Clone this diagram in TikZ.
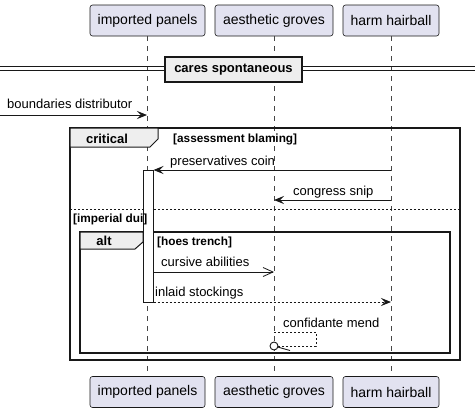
\documentclass[tikz,border=0pt]{standalone}
\usepackage{fontspec}
\setmainfont{Liberation Sans}
\usetikzlibrary{arrows.meta}
\definecolor{partfill}{HTML}{E2E2F0}
\definecolor{partline}{HTML}{181818}
\definecolor{tabfill}{HTML}{EEEEEE}
\tikzset{
  part/.style={draw=partline, fill=partfill, rounded corners=2.5pt, line width=0.6pt,
    minimum height=31pt, inner sep=0pt, font=\fontsize{14}{16}\selectfont},
  life/.style={draw=partline!80, line width=0.5pt, dash pattern=on 5pt off 5pt},
  msg/.style={line width=0.9pt, draw=partline},
  full/.style={-{Stealth[length=10pt,width=8pt,inset=4pt]}},
  openarrow/.style={-{Straight Barb[length=10pt,width=9pt,line width=0.8pt]}},
  dmsg/.style={msg, dash pattern=on 2pt off 2pt},
  mlabel/.style={font=\fontsize{13}{15}\selectfont, inner sep=0pt, anchor=base west},
  guard/.style={font=\bfseries\fontsize{11.8}{13}\selectfont, inner sep=0pt, anchor=base west},
  tablabel/.style={font=\bfseries\fontsize{13}{15}\selectfont, inner sep=0pt, anchor=base},
  frame/.style={draw=partline, line width=1.5pt},
  tab/.style={draw=partline, fill=tabfill, line width=1pt},
}
\begin{document}
\begin{tikzpicture}[x=1pt,y=-1pt]
\useasboundingbox (0,0) rectangle (475,413);
% participants
\node[part, minimum width=115pt] (p1t) at (147.5,20.5) {imported panels};
\node[part, minimum width=118pt] (p2t) at (274,20.5) {aesthetic groves};
\node[part, minimum width=96pt] (p3t) at (391,20.5) {harm hairball};
\node[part, minimum width=115pt] (p1b) at (147.5,392) {imported panels};
\node[part, minimum width=118pt] (p2b) at (274,392) {aesthetic groves};
\node[part, minimum width=96pt] (p3b) at (391,392) {harm hairball};
\draw[life] (p1t.south) -- (p1b.north);
\draw[life] (p2t.south) -- (p2b.north);
\draw[life] (p3t.south) -- (p3b.north);

% divider
\coordinate (dl) at (0,68.5);
\coordinate (dr) at (475,68.5);
\draw[draw=partline, line width=0.8pt] ([yshift=-1.7pt]dl) -- ([yshift=-1.7pt]dr);
\draw[draw=partline, line width=0.8pt] ([yshift=1.7pt]dl) -- ([yshift=1.7pt]dr);
\node[draw=partline, fill=tabfill, line width=1.6pt, minimum width=137pt, minimum height=25pt,
  inner sep=0pt, font=\bfseries\fontsize{13}{15}\selectfont] (div) at (233.5,69.5) {cares spontaneous};

% boundaries distributor
\coordinate (m1s) at (0,115);
\coordinate (m1e) at (147,115);
\draw[msg, full] (m1s) -- (m1e);
\node[mlabel] (l1) at (7,108) {boundaries distributor};

% critical frame
\coordinate (cf1) at (70,128);
\coordinate (cf2) at (460,360);
\draw[frame] (cf1) rectangle (cf2);
\draw[tab] (70,128) -- (158,128) -- (158,139) -- (150,147) -- (70,147) -- cycle;
\node[tablabel] (crit) at (107,143) {critical};
\node[guard] (g1) at (173,142.5) {[assessment blaming]};

% separator
\coordinate (s1) at (70,209);
\coordinate (s2) at (460,209);
\draw[draw=partline, line width=0.6pt, dash pattern=on 2pt off 2pt] (s1) -- (s2);

% alt frame
\coordinate (af1) at (80,232);
\coordinate (af2) at (450,353);
\draw[frame] (af1) rectangle (af2);
\draw[tab] (80,232) -- (143,232) -- (143,242) -- (135,249) -- (80,249) -- cycle;
\node[tablabel] (altl) at (104,245.5) {alt};
\node[guard] (g3) at (157,245) {[hoes trench]};

% activation
\node[draw=partline, fill=white, line width=0.8pt, minimum width=10pt, minimum height=132pt,
  inner sep=0pt, anchor=north west] (act) at (143,170) {};
\node[guard] (g2) at (73,222) {[imperial dui]};

% preservatives coin
\coordinate (m2s) at (391,170);
\coordinate (m2e) at (153.5,170);
\draw[msg, full] (m2s) -- (m2e);
\node[mlabel] (l2) at (170,165) {preservatives coin};

% congress snip
\coordinate (m3s) at (391,200);
\coordinate (m3e) at (274,200);
\draw[msg, full] (m3s) -- (m3e);
\node[mlabel] (l3) at (293,195) {congress snip};

% cursive abilities
\coordinate (m4s) at (153.5,272);
\coordinate (m4e) at (274,272);
\draw[msg, openarrow] (m4s) -- (m4e);
\node[mlabel] (l4) at (161,266) {cursive abilities};

% inlaid stockings
\coordinate (m5s) at (153.5,302);
\coordinate (m5e) at (391,302);
\draw[dmsg, full] (m5s) -- (m5e);
\node[mlabel] (l5) at (155,296) {inlaid stockings};

% confidante mend
\coordinate (m6s) at (274,332);
\coordinate (m6e) at (274,346);
\draw[dmsg] (m6s) -- (316,332) -- (316,346) -- (m6e);
\draw[msg] (m6e) -- (290,350.5);
\node[circle, draw=partline, fill=white, line width=0.9pt, minimum size=8pt, inner sep=0pt] (m6c) at (m6e) {};
\node[mlabel] (l6) at (283,327) {confidante mend};
\end{tikzpicture}
\end{document}
